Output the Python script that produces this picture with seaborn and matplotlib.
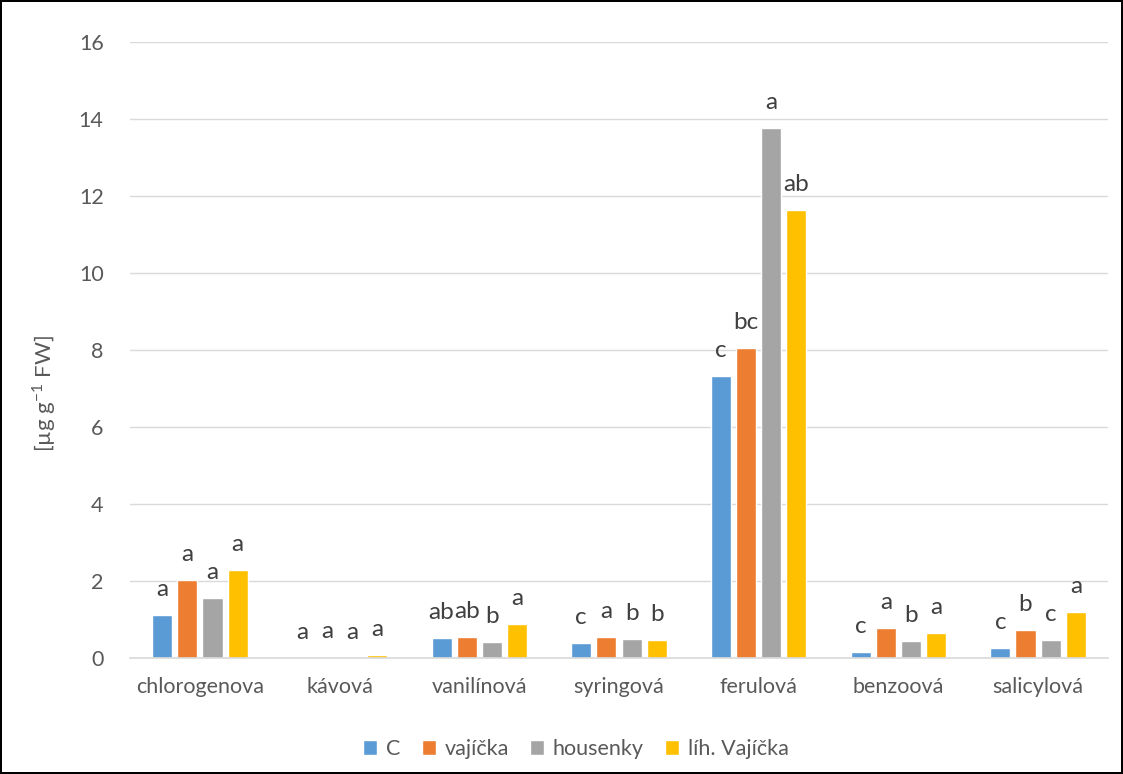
import matplotlib
matplotlib.use("Agg")
import matplotlib.pyplot as plt
import seaborn as sns
import pandas as pd

# Phenolic acid contents per treatment
acids = ["chlorogenova", "kávová", "vanilínová", "syringová", "ferulová", "benzoová", "salicylová"]
treatments = ["C", "vajíčka", "housenky", "líh. Vajíčka"]
val_C = [1.12, 0.0, 0.52, 0.39, 7.33, 0.16, 0.26]
val_vajicka = [2.03, 0.02, 0.55, 0.55, 8.05, 0.78, 0.73]
val_housenky = [1.56, 0.0, 0.42, 0.49, 13.77, 0.44, 0.47]
val_lih = [2.29, 0.08, 0.88, 0.47, 11.64, 0.65, 1.19]

# Significance letters
let_C = ["a", "a", "ab", "c", "c", "c", "c"]
let_vajicka = ["a", "a", "ab", "a", "bc", "a", "b"]
let_housenky = ["a", "a", "b", "b", "a", "b", "c"]
let_lih = ["a", "a", "a", "b", "ab", "a", "a"]

colors = ["#5B9BD5", "#ED7D31", "#A5A5A5", "#FFC000"]

values = [val_C, val_vajicka, val_housenky, val_lih]
letters = [let_C, let_vajicka, let_housenky, let_lih]

rows = []
for t, vals in zip(treatments, values):
    for a, v in zip(acids, vals):
        rows.append({"acid": a, "treatment": t, "value": v})
df = pd.DataFrame(rows)

sns.set_style("white")
plt.rcParams["font.family"] = ["Lato", "DejaVu Sans"]
plt.rcParams["mathtext.fontset"] = "custom"
plt.rcParams["mathtext.rm"] = "Lato"

fig = plt.figure(figsize=(11.23, 7.74), dpi=100)
fig.patch.set_edgecolor("#000000")
fig.patch.set_linewidth(1.5)
ax = fig.add_axes([0.1158, 0.1499, 0.8708, 0.7958])

sns.barplot(data=df, x="acid", y="value", hue="treatment", order=acids,
            hue_order=treatments, palette=colors, width=0.72, gap=0.2,
            saturation=1, errorbar=None, ax=ax, legend=True)

for cont, labs in zip(ax.containers, letters):
    ax.bar_label(cont, labels=labs, padding=11, fontsize=17.5, color="#404040")

ax.set_ylim(0, 16)
ax.set_yticks(range(0, 17, 2))
ax.yaxis.grid(True, color="#D9D9D9", linewidth=1)
ax.set_axisbelow(True)
for s in ["top", "right", "left"]:
    ax.spines[s].set_visible(False)
ax.spines["bottom"].set_color("#D9D9D9")
ax.spines["bottom"].set_linewidth(1.2)
ax.tick_params(axis="both", length=0, labelsize=15.5, colors="#595959")
ax.tick_params(axis="x", pad=14)
ax.tick_params(axis="y", pad=19)
ax.set_xlabel("")
ax.set_ylabel("[µg g$^{\\mathrm{-1}}$ FW]", fontsize=16, color="#595959")
ax.yaxis.set_label_coords(-0.074, 0.43)

leg = ax.legend(loc="upper center", bbox_to_anchor=(0.456, -0.1), ncol=4, frameon=False,
                fontsize=15.5, handlelength=0.65, handleheight=0.65, handletextpad=0.4,
                columnspacing=1.0)
for txt in leg.get_texts():
    txt.set_color("#595959")

fig.savefig("out.png", dpi=100)
